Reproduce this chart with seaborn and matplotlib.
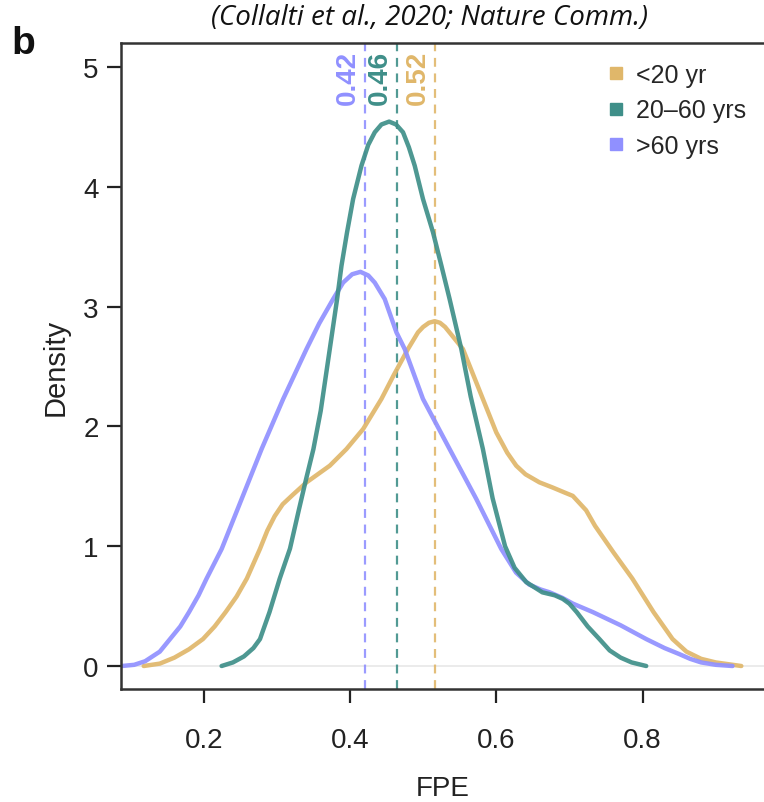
import numpy as np
import pandas as pd
import matplotlib
matplotlib.use("Agg")
import matplotlib.pyplot as plt
from matplotlib.lines import Line2D
import seaborn as sns

groups = ["<20 yr", "20\u201360 yrs", ">60 yrs"]
colors = ["#E0B76A", "#3F8F89", "#9090FF"]

young_x = [0.118, 0.14, 0.16, 0.18, 0.199, 0.215, 0.23, 0.245, 0.259, 0.2769, 0.287, 0.297, 0.308,
           0.322, 0.3406, 0.3724, 0.3952, 0.418, 0.443, 0.46, 0.4793, 0.493, 0.50, 0.508, 0.5158,
           0.523, 0.53, 0.536, 0.5544, 0.5817, 0.600, 0.615, 0.6273, 0.64, 0.659, 0.677, 0.6946,
           0.7046, 0.7228, 0.735, 0.76, 0.786, 0.815, 0.841, 0.86, 0.88, 0.90, 0.935]
young_y = [0.0, 0.02, 0.07, 0.14, 0.225, 0.33, 0.45, 0.58, 0.73, 0.977, 1.13, 1.25, 1.35,
           1.43, 1.533, 1.672, 1.811, 1.978, 2.229, 2.43, 2.646, 2.785, 2.83, 2.865, 2.878,
           2.865, 2.83, 2.785, 2.646, 2.229, 1.95, 1.78, 1.672, 1.60, 1.533, 1.49, 1.445,
           1.42, 1.30, 1.17, 0.95, 0.73, 0.45, 0.225, 0.12, 0.06, 0.03, 0.0]

mid_x = [0.2245, 0.24, 0.255, 0.268, 0.277, 0.29, 0.304, 0.318, 0.33, 0.34, 0.35, 0.36, 0.3724,
         0.3824, 0.3884, 0.396, 0.4043, 0.4157, 0.425, 0.4339, 0.443, 0.4535, 0.463, 0.4725,
         0.4805, 0.4885, 0.4998, 0.5135, 0.525, 0.5362, 0.5522, 0.565, 0.5817, 0.595, 0.612,
         0.625, 0.641, 0.663, 0.68, 0.691, 0.70, 0.71, 0.725, 0.741, 0.755, 0.77, 0.785, 0.805]
mid_y = [0.0, 0.03, 0.08, 0.15, 0.225, 0.45, 0.73, 0.98, 1.30, 1.56, 1.81, 2.13, 2.646,
         3.063, 3.341, 3.62, 3.898, 4.176, 4.35, 4.455, 4.52, 4.544, 4.52, 4.455,
         4.33, 4.176, 3.898, 3.62, 3.341, 3.063, 2.646, 2.25, 1.811, 1.40, 1.00,
         0.82, 0.70, 0.615, 0.59, 0.56, 0.52, 0.45, 0.33, 0.225, 0.13, 0.07, 0.03, 0.0]

old_x = [0.088, 0.105, 0.12, 0.14, 0.154, 0.168, 0.18, 0.193, 0.204, 0.2246, 0.2519, 0.2792,
         0.3087, 0.3406, 0.358, 0.377, 0.3906, 0.403, 0.4143, 0.425, 0.4339, 0.4475, 0.4635,
         0.4748, 0.4998, 0.5362, 0.5727, 0.6068, 0.627, 0.645, 0.66, 0.673, 0.69, 0.705, 0.732,
         0.77, 0.805, 0.83, 0.85, 0.865, 0.88, 0.90, 0.923]
old_y = [0.0, 0.01, 0.04, 0.12, 0.225, 0.33, 0.45, 0.59, 0.73, 0.977, 1.394, 1.811,
         2.229, 2.646, 2.86, 3.063, 3.20, 3.27, 3.29, 3.26, 3.20, 3.063, 2.785,
         2.646, 2.229, 1.811, 1.394, 0.977, 0.78, 0.68, 0.64, 0.615, 0.57, 0.52, 0.45,
         0.34, 0.225, 0.15, 0.10, 0.06, 0.03, 0.01, 0.0]

modes = [0.516, 0.464, 0.421]
mode_labels = ["0.52", "0.46", "0.42"]

xticks = [0.2, 0.4, 0.6, 0.8]
yticks = [0, 1, 2, 3, 4, 5]

df = pd.concat([
    pd.DataFrame({"FPE": young_x, "Density": young_y, "group": groups[0]}),
    pd.DataFrame({"FPE": mid_x, "Density": mid_y, "group": groups[1]}),
    pd.DataFrame({"FPE": old_x, "Density": old_y, "group": groups[2]}),
], ignore_index=True)

sns.set_style("white")
plt.rcParams["font.family"] = ["Liberation Sans", "DejaVu Sans"]

fig = plt.figure(figsize=(7.64, 8.03), dpi=100)
ax = fig.add_axes([0.1584, 0.1407, 0.8416, 0.8045])

ax.axhline(0, color="#e8e8e8", lw=1.2, zorder=0)

# draw in order so that teal is on top of blue, like the reference
for g, c in zip([groups[0], groups[2], groups[1]], [colors[0], colors[2], colors[1]]):
    sub = df[df["group"] == g]
    sns.lineplot(data=sub, x="FPE", y="Density", color=c, lw=3.2, alpha=0.92,
                 sort=False, estimator=None, ax=ax, solid_capstyle="round",
                 solid_joinstyle="round")

for m, lab, c in zip(modes, mode_labels, colors):
    ax.axvline(m, color=c, lw=1.6, ls=(0, (4, 3)), alpha=0.9, zorder=1)
    ax.text(m - 0.006, 5.14, lab, rotation=90, ha="right", va="top", color=c,
            fontsize=20, fontweight="bold")

ax.set_xlim(0.087, 0.966)
ax.set_ylim(-0.192, 5.2)
ax.set_xticks(xticks)
ax.set_xticklabels([f"{t:.1f}" for t in xticks])
ax.set_yticks(yticks)
ax.set_yticklabels([str(t) for t in yticks])
ax.tick_params(axis="both", direction="out", length=10, width=1.6, labelsize=20,
               color="#222222", labelcolor="#222222", bottom=True, left=True, pad=6)
ax.tick_params(axis="x", pad=17)
ax.set_xlabel("FPE", fontsize=20, color="#222222", labelpad=16)
ax.set_ylabel("Density", fontsize=21, color="#222222", labelpad=10)

for s in ["left", "bottom", "top"]:
    ax.spines[s].set_visible(True)
    ax.spines[s].set_linewidth(1.8)
    ax.spines[s].set_color("#333333")
ax.spines["right"].set_visible(False)

handles = [Line2D([0], [0], marker="s", ls="", color=c, markersize=9) for c in colors]
ax.legend(handles, groups, loc="upper right", bbox_to_anchor=(0.995, 0.992), frameon=False,
          fontsize=18, handletextpad=0.2, labelspacing=0.45, borderaxespad=0.2,
          handlelength=1.2)

fig.text(0.562, 0.977, "(Collalti et al., 2020; Nature Comm.)", ha="center", va="center",
         fontsize=20, style="italic", family=["Open Sans", "DejaVu Sans"], color="#111111")
fig.text(0.015, 0.945, "b", ha="left", va="center", fontsize=28, fontweight="bold", color="#111111")

fig.savefig("out.png", dpi=100)
